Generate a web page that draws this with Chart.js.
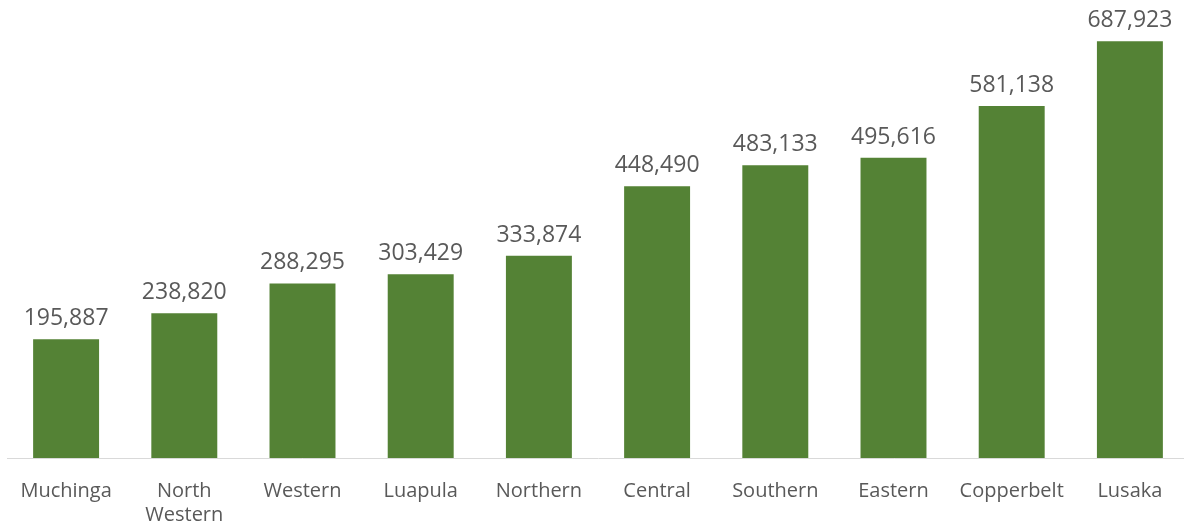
<!DOCTYPE html>
<html>
<head>
<meta charset="utf-8">
<script src="https://cdn.jsdelivr.net/npm/chart.js@4"></script>
<style>
  html, body { margin: 0; padding: 0; background: #fff; overflow: hidden; }
  #wrap { position: relative; width: 1190px; height: 528px; }
</style>
</head>
<body>
<div id="wrap"><canvas id="chart"></canvas></div>
<script>
const provinces = [
  'Muchinga',
  ['North', 'Western'],
  'Western',
  'Luapula',
  'Northern',
  'Central',
  'Southern',
  'Eastern',
  'Copperbelt',
  'Lusaka',
];

const population = [
  195887, 238820, 288295, 303429, 333874,
  448490, 483133, 495616, 581138, 687923,
];

const barColor = '#548235';
const textColor = '#595959';
const fontFamily = "'Open Sans', sans-serif";

// value labels above each bar
const valueLabels = {
  id: 'valueLabels',
  afterDatasetsDraw(chart) {
    const ctx = chart.ctx;
    const meta = chart.getDatasetMeta(0);
    ctx.save();
    ctx.font = `23px ${fontFamily}`;
    ctx.fillStyle = textColor;
    ctx.textAlign = 'center';
    ctx.textBaseline = 'alphabetic';
    meta.data.forEach((bar, i) => {
      const value = chart.data.datasets[0].data[i];
      ctx.fillText(value.toLocaleString('en-US'), bar.x, bar.y - 14);
    });
    ctx.restore();
  },
};

new Chart(document.getElementById('chart'), {
  type: 'bar',
  plugins: [valueLabels],
  data: {
    labels: provinces,
    datasets: [
      {
        data: population,
        backgroundColor: barColor,
        borderWidth: 0,
        categoryPercentage: 1,
        barPercentage: 0.558,
      },
    ],
  },
  options: {
    responsive: true,
    maintainAspectRatio: false,
    animation: false,
    layout: {
      padding: { top: 34, left: 7, right: 1, bottom: 0 },
    },
    plugins: {
      legend: { display: false },
      tooltip: { enabled: false },
    },
    scales: {
      x: {
        grid: { display: false },
        border: { display: true, color: '#d9d9d9', width: 1 },
        ticks: {
          color: textColor,
          padding: 13,
          maxRotation: 0,
          autoSkip: false,
          font: { family: fontFamily, size: 20, lineHeight: 1.2 },
        },
        afterFit: (scale) => {
          scale.height = 70;
        },
      },
      y: {
        display: false,
        min: 0,
        max: 700000,
      },
    },
  },
});
</script>
</body>
</html>
